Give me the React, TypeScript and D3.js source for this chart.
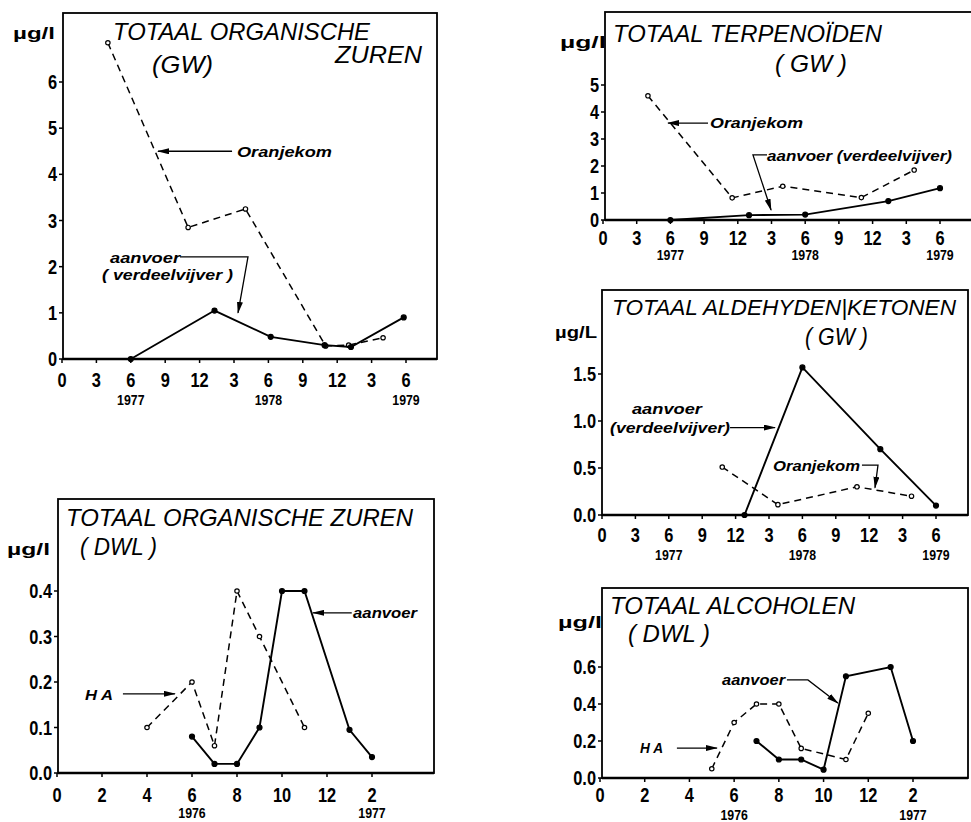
import React from 'react';
import * as d3 from 'd3';

// ---------- axis labels ----------
const monthTicks = [0, 3, 6, 9, 12, 15, 18, 21, 24, 27, 30];
const monthTickLabels = ['0', '3', '6', '9', '12', '3', '6', '9', '12', '3', '6'];
const yearTicks77 = [6, 18, 30];
const yearLabels77 = ['1977', '1978', '1979'];
const dwlTicks = [0, 2, 4, 6, 8, 10, 12, 14];
const dwlTickLabels = ['0', '2', '4', '6', '8', '10', '12', '2'];
const yearTicks76 = [6, 14];
const yearLabels76 = ['1976', '1977'];

// ---------- Panel 1: Totaal organische zuren (GW) ----------
const p1YTicks = [0, 1, 2, 3, 4, 5, 6];
const p1OranjeX = [4, 11, 16, 23, 25, 28];
const p1OranjeY = [6.85, 2.85, 3.25, 0.28, 0.3, 0.46];
const p1AanvoerX = [6, 13.3, 18.2, 22.9, 25.2, 29.8];
const p1AanvoerY = [0, 1.05, 0.48, 0.3, 0.26, 0.9];

// ---------- Panel 2: Totaal terpenoiden (GW) ----------
const p2YTicks = [0, 1, 2, 3, 4, 5];
const p2OranjeX = [4, 11.5, 16, 23, 27.7];
const p2OranjeY = [4.6, 0.82, 1.25, 0.83, 1.85];
const p2AanvoerX = [6, 13, 18, 25.4, 30];
const p2AanvoerY = [0, 0.18, 0.2, 0.7, 1.18];

// ---------- Panel 3: Totaal aldehyden/ketonen (GW) ----------
const p3YTicks = [0, 0.5, 1.0, 1.5];
const p3AanvoerX = [12.8, 18, 25, 30];
const p3AanvoerY = [0, 1.57, 0.7, 0.1];
const p3OranjeX = [10.8, 15.8, 22.9, 27.8];
const p3OranjeY = [0.51, 0.11, 0.3, 0.2];

// ---------- Panel 4: Totaal organische zuren (DWL) ----------
const p4YTicks = [0, 0.1, 0.2, 0.3, 0.4];
const p4HaX = [4, 6, 7, 8, 9, 11];
const p4HaY = [0.1, 0.2, 0.06, 0.4, 0.3, 0.1];
const p4AanvoerX = [6, 7, 8, 9, 10, 11, 13, 14];
const p4AanvoerY = [0.08, 0.02, 0.02, 0.1, 0.4, 0.4, 0.095, 0.035];

// ---------- Panel 5: Totaal alcoholen (DWL) ----------
const p5YTicks = [0, 0.2, 0.4, 0.6];
const p5HaX = [5, 6, 7, 8, 9, 11, 12];
const p5HaY = [0.05, 0.3, 0.4, 0.4, 0.16, 0.1, 0.35];
const p5AanvoerX = [7, 8, 9, 10, 11, 13, 14];
const p5AanvoerY = [0.2, 0.1, 0.1, 0.045, 0.55, 0.6, 0.2];

type Series = { xs: number[]; ys: number[]; dashed: boolean };
type TextItem = { text: string; x: number; y: number; w: number; size?: number };
type Ann =
  | { kind: 'label'; text: string; x: number; y: number; w: number }
  | { kind: 'arrow'; pts: [number, number][] };

type PanelCfg = {
  frame: { left: number; top: number; right: number; bottom: number };
  xDomain: [number, number];
  xRange: [number, number];
  yDomain: [number, number];
  yRange: [number, number];
  xTicks: number[];
  xTickLabels: string[];
  yearTicks: number[];
  yearLabels: string[];
  yTicks: number[];
  yFmt: (v: number) => string;
  tickBase: number;
  yearBase: number;
  series: Series[];
  titles: TextItem[];
  unit: TextItem;
  anns: Ann[];
};

const intFmt = (v: number) => d3.format('d')(v);
const decFmt = (v: number) => d3.format('.1f')(v);

const panels: PanelCfg[] = [
  {
    frame: { left: 63, top: 13, right: 437, bottom: 359 },
    xDomain: [0, 30], xRange: [62, 406],
    yDomain: [0, 6], yRange: [359, 82],
    xTicks: monthTicks, xTickLabels: monthTickLabels,
    yearTicks: yearTicks77, yearLabels: yearLabels77,
    yTicks: p1YTicks, yFmt: intFmt, tickBase: 28, yearBase: 46,
    series: [
      { xs: p1OranjeX, ys: p1OranjeY, dashed: true },
      { xs: p1AanvoerX, ys: p1AanvoerY, dashed: false },
    ],
    titles: [
      { text: 'TOTAAL ORGANISCHE', x: 113, y: 40, w: 257 },
      { text: '(GW)', x: 152, y: 73, w: 61 },
      { text: 'ZUREN', x: 335, y: 63, w: 87 },
    ],
    unit: { text: 'µg/l', x: 13, y: 39, w: 42 },
    anns: [
      { kind: 'label', text: 'Oranjekom', x: 15.26, y: 4.375, w: 95 },
      { kind: 'arrow', pts: [[14.83, 4.5], [8.37, 4.5]] },
      { kind: 'label', text: 'aanvoer', x: 4.19, y: 2.08, w: 70 },
      { kind: 'label', text: '( verdeelvijver )', x: 3.49, y: 1.71, w: 131 },
      { kind: 'arrow', pts: [[10.29, 2.21], [16.22, 2.21], [15.35, 1.0]] },
    ],
  },
  {
    frame: { left: 605, top: 12, right: 973, bottom: 220 },
    xDomain: [0, 30], xRange: [603, 940],
    yDomain: [0, 5], yRange: [220, 85],
    xTicks: monthTicks, xTickLabels: monthTickLabels,
    yearTicks: yearTicks77, yearLabels: yearLabels77,
    yTicks: p2YTicks, yFmt: intFmt, tickBase: 25, yearBase: 40,
    series: [
      { xs: p2OranjeX, ys: p2OranjeY, dashed: true },
      { xs: p2AanvoerX, ys: p2AanvoerY, dashed: false },
    ],
    titles: [
      { text: 'TOTAAL TERPENOÏDEN', x: 613, y: 42, w: 269 },
      { text: '( GW )', x: 775, y: 72, w: 72 },
    ],
    unit: { text: 'µg/l', x: 560, y: 48, w: 46 },
    anns: [
      { kind: 'label', text: 'Oranjekom', x: 9.53, y: 3.41, w: 93 },
      { kind: 'arrow', pts: [[9.35, 3.59], [5.79, 3.59]] },
      { kind: 'label', text: 'aanvoer (verdeelvijver)', x: 14.6, y: 2.19, w: 185 },
      { kind: 'arrow', pts: [[14.6, 2.41], [13.35, 2.41], [14.96, 0.37]] },
    ],
  },
  {
    frame: { left: 602, top: 290, right: 968, bottom: 515 },
    xDomain: [0, 30], xRange: [602, 936],
    yDomain: [0, 1.5], yRange: [515, 374],
    xTicks: monthTicks, xTickLabels: monthTickLabels,
    yearTicks: yearTicks77, yearLabels: yearLabels77,
    yTicks: p3YTicks, yFmt: decFmt, tickBase: 27, yearBase: 45,
    series: [
      { xs: p3OranjeX, ys: p3OranjeY, dashed: true },
      { xs: p3AanvoerX, ys: p3AanvoerY, dashed: false },
    ],
    titles: [
      { text: 'TOTAAL ALDEHYDEN|KETONEN', x: 612, y: 315, w: 344, size: 22 },
      { text: '( GW )', x: 805, y: 345, w: 63 },
    ],
    unit: { text: 'µg/L', x: 555, y: 338, w: 42 },
    anns: [
      { kind: 'label', text: 'aanvoer', x: 2.69, y: 1.075, w: 70 },
      { kind: 'label', text: '(verdeelvijver)', x: 0.72, y: 0.87, w: 120 },
      { kind: 'arrow', pts: [[11.5, 0.93], [15.54, 0.93]] },
      { kind: 'label', text: 'Oranjekom', x: 15.36, y: 0.47, w: 87 },
      { kind: 'arrow', pts: [[23.35, 0.53], [24.79, 0.53], [24.52, 0.29]] },
    ],
  },
  {
    frame: { left: 58, top: 499, right: 434, bottom: 773 },
    xDomain: [0, 14], xRange: [57, 372],
    yDomain: [0, 0.4], yRange: [773, 591],
    xTicks: dwlTicks, xTickLabels: dwlTickLabels,
    yearTicks: yearTicks76, yearLabels: yearLabels76,
    yTicks: p4YTicks, yFmt: decFmt, tickBase: 29, yearBase: 45,
    series: [
      { xs: p4HaX, ys: p4HaY, dashed: true },
      { xs: p4AanvoerX, ys: p4AanvoerY, dashed: false },
    ],
    titles: [
      { text: 'TOTAAL ORGANISCHE ZUREN', x: 66, y: 526, w: 347 },
      { text: '( DWL )', x: 80, y: 555, w: 77 },
    ],
    unit: { text: 'µg/l', x: 7, y: 555, w: 43 },
    anns: [
      { kind: 'label', text: 'H A', x: 1.24, y: 0.16, w: 28 },
      { kind: 'arrow', pts: [[2.93, 0.174], [5.24, 0.174]] },
      { kind: 'label', text: 'aanvoer', x: 13.16, y: 0.34, w: 64 },
      { kind: 'arrow', pts: [[13.1, 0.352], [11.38, 0.352]] },
    ],
  },
  {
    frame: { left: 602, top: 588, right: 968, bottom: 778 },
    xDomain: [0, 14], xRange: [600, 913],
    yDomain: [0, 0.6], yRange: [778, 667],
    xTicks: dwlTicks, xTickLabels: dwlTickLabels,
    yearTicks: yearTicks76, yearLabels: yearLabels76,
    yTicks: p5YTicks, yFmt: decFmt, tickBase: 24, yearBase: 42,
    series: [
      { xs: p5HaX, ys: p5HaY, dashed: true },
      { xs: p5AanvoerX, ys: p5AanvoerY, dashed: false },
    ],
    titles: [
      { text: 'TOTAAL ALCOHOLEN', x: 610, y: 614, w: 245 },
      { text: '( DWL )', x: 628, y: 642, w: 82 },
    ],
    unit: { text: 'µg/l', x: 558, y: 628, w: 44 },
    anns: [
      { kind: 'label', text: 'aanvoer', x: 5.46, y: 0.503, w: 63 },
      { kind: 'arrow', pts: [[8.36, 0.53], [9.3, 0.53], [10.64, 0.405]] },
      { kind: 'label', text: 'H A', x: 1.79, y: 0.135, w: 23 },
      { kind: 'arrow', pts: [[3.44, 0.162], [5.23, 0.162]] },
    ],
  },
];

const FONT = "'Liberation Sans', Arial, sans-serif";

function Num({ x, y, text, size, anchor, sx = 0.82 }: { x: number; y: number; text: string; size: number; anchor: string; sx?: number }) {
  return (
    <text
      transform={`translate(${x},${y}) scale(${sx},1)`}
      fontFamily={FONT}
      fontWeight="bold"
      fontSize={size}
      textAnchor={anchor as any}
      fill="#000"
    >
      {text}
    </text>
  );
}

function Panel({ cfg }: { cfg: PanelCfg }) {
  const x = d3.scaleLinear().domain(cfg.xDomain).range(cfg.xRange);
  const y = d3.scaleLinear().domain(cfg.yDomain).range(cfg.yRange);
  const f = cfg.frame;
  const line = d3
    .line<[number, number]>()
    .x((d) => x(d[0]))
    .y((d) => y(d[1]));
  return (
    <g>
      <rect
        x={f.left}
        y={f.top}
        width={f.right - f.left}
        height={f.bottom - f.top}
        fill="none"
        stroke="#000"
        strokeWidth={1.8}
      />
      <line x1={f.left} x2={f.right} y1={f.bottom} y2={f.bottom} stroke="#000" strokeWidth={2.6} />
      {cfg.xTicks.map((t, i) => (
        <g key={'xt' + i}>
          <line x1={x(t)} x2={x(t)} y1={f.bottom} y2={f.bottom + 4} stroke="#000" strokeWidth={1.5} />
          <Num x={x(t)} y={f.bottom + cfg.tickBase} text={cfg.xTickLabels[i]} size={20} anchor="middle" />
        </g>
      ))}
      {cfg.yearTicks.map((t, i) => (
        <Num key={'yr' + i} x={x(t)} y={f.bottom + cfg.yearBase} text={cfg.yearLabels[i]} size={14} anchor="middle" sx={0.88} />
      ))}
      {cfg.yTicks.map((t, i) => (
        <g key={'yt' + i}>
          <line x1={f.left - 4} x2={f.left} y1={y(t)} y2={y(t)} stroke="#000" strokeWidth={1.5} />
          <Num x={f.left - 6} y={y(t) + 7} text={cfg.yFmt(t)} size={20} anchor="end" />
        </g>
      ))}
      {cfg.series.map((s, si) => {
        const pts: [number, number][] = s.xs.map((v, i) => [v, s.ys[i]]);
        return (
          <g key={'s' + si}>
            <path
              d={line(pts) || ''}
              fill="none"
              stroke="#000"
              strokeWidth={s.dashed ? 1.5 : 1.9}
              strokeDasharray={s.dashed ? '7,5' : undefined}
            />
            {pts.map((p, i) => (
              <circle
                key={i}
                cx={x(p[0])}
                cy={y(p[1])}
                r={s.dashed ? 2.2 : 2.5}
                fill={s.dashed ? '#fff' : '#000'}
                stroke="#000"
                strokeWidth={1.2}
              />
            ))}
          </g>
        );
      })}
      {cfg.titles.map((t, i) => (
        <text
          key={'t' + i}
          x={t.x}
          y={t.y}
          fontFamily={FONT}
          fontStyle="italic"
          fontSize={t.size ?? 24}
          textLength={t.w}
          lengthAdjust="spacingAndGlyphs"
          fill="#000"
        >
          {t.text}
        </text>
      ))}
      <text
        x={cfg.unit.x}
        y={cfg.unit.y}
        fontFamily={FONT}
        fontWeight="bold"
        fontSize={16}
        textLength={cfg.unit.w}
        lengthAdjust="spacingAndGlyphs"
        fill="#000"
      >
        {cfg.unit.text}
      </text>
      {cfg.anns.map((a, i) =>
        a.kind === 'label' ? (
          <text
            key={'a' + i}
            x={x(a.x)}
            y={y(a.y)}
            fontFamily={FONT}
            fontStyle="italic"
            fontWeight="bold"
            fontSize={15}
            textLength={a.w}
            lengthAdjust="spacingAndGlyphs"
            fill="#000"
          >
            {a.text}
          </text>
        ) : (
          <path
            key={'a' + i}
            d={line(a.pts) || ''}
            fill="none"
            stroke="#000"
            strokeWidth={1.3}
            markerEnd="url(#arrowhead)"
          />
        )
      )}
    </g>
  );
}

export default function App() {
  return (
    <svg
      width={971}
      height={822}
      style={{ position: 'absolute', left: 0, top: 0, background: '#fff' }}
    >
      <defs>
        <marker
          id="arrowhead"
          viewBox="0 0 12 6"
          refX={11}
          refY={3}
          markerWidth={12}
          markerHeight={6}
          markerUnits="userSpaceOnUse"
          orient="auto"
        >
          <path d="M0,0 L12,3 L0,6 z" fill="#000" />
        </marker>
      </defs>
      <rect x={0} y={0} width={971} height={822} fill="#fff" />
      {panels.map((p, i) => (
        <Panel key={i} cfg={p} />
      ))}
    </svg>
  );
}
